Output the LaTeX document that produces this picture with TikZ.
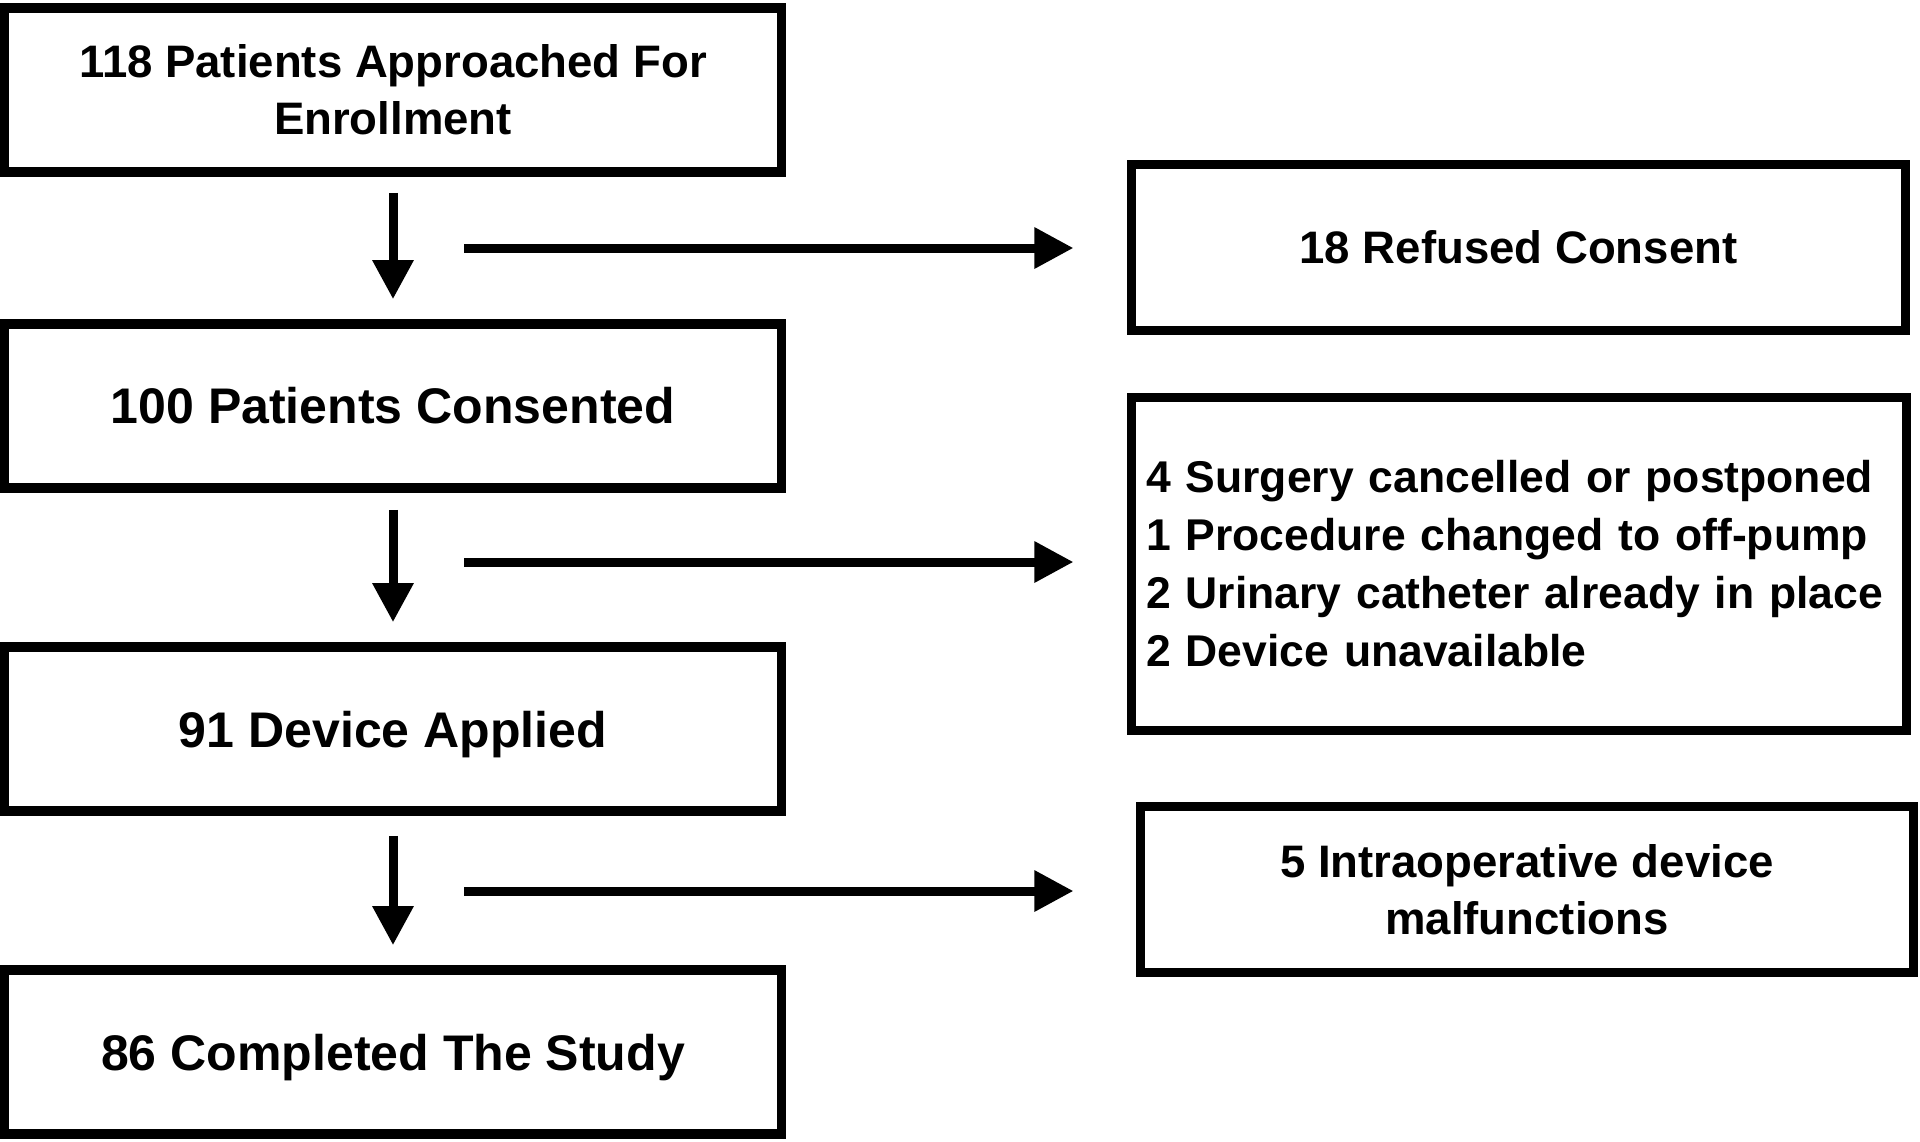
\documentclass[tikz,border=0pt]{standalone}
\usepackage{fontspec}
\setmainfont{Liberation Sans}
\usetikzlibrary{arrows.meta}
\begin{document}
\begin{tikzpicture}[x=0.01cm,y=-0.01cm,
  box/.style={draw, line width=0.095cm, inner sep=0pt, align=center},
  leftbox/.style={box, minimum width=7.77cm, minimum height=1.64cm,
    font=\bfseries\fontsize{14.23pt}{16.2pt}\selectfont},
  rightbox/.style={box, minimum width=7.74cm, minimum height=1.66cm,
    font=\bfseries\fontsize{12.95pt}{16.2pt}\selectfont},
  smallfont/.style={font=\bfseries\fontsize{12.95pt}{16.2pt}\selectfont},
  darrow/.style={line width=0.09cm, -{Triangle[width=0.39cm,length=0.39cm]}},
  harrow/.style={line width=0.09cm, -{Triangle[width=0.39cm,length=0.39cm]}}]
\useasboundingbox (0,0) rectangle (1920,1141);

% left column
\node[leftbox, smallfont] (b1) at (393,90) {118 Patients Approached For\\Enrollment};
\node[leftbox] (b2) at (393,406) {100 Patients Consented};
\node[leftbox, text depth=0pt] (b3) at (393,729) {91 Device Applied};
\node[leftbox, text depth=0pt] (b4) at (393,1052) {86 Completed The Study};

% right column
\node[rightbox] (r1) at (1518.5,247.5) {18 Refused Consent};
\node[box, minimum width=7.75cm, minimum height=3.33cm, text width=7.45cm,
  inner xsep=0.15cm, align=left,
  font=\bfseries\fontsize{12.65pt}{16.5pt}\selectfont] (r2) at (1519,564)
  {4 Surgery cancelled or postponed\\1 Procedure changed to off-pump\\2 Urinary catheter already in place\\2 Device unavailable};
\node[rightbox, minimum width=7.73cm] (r3) at (1527,889.5) {5 Intraoperative device\\malfunctions};

% vertical arrows
\draw[darrow] ([yshift=-0.16cm]b1.south) -- ([yshift=0.2cm]b2.north);
\draw[darrow] ([yshift=-0.17cm]b2.south) -- ([yshift=0.2cm]b3.north);
\draw[darrow] ([yshift=-0.2cm]b3.south) -- ([yshift=0.2cm]b4.north);

% horizontal arrows
\coordinate (h1) at (464,248);
\coordinate (h2) at (464,562);
\coordinate (h3) at (464,891);
\draw[harrow] (h1) -- ([xshift=-0.53cm]h1 -| r1.west);
\draw[harrow] (h2) -- ([xshift=-0.53cm]h2 -| r2.west);
\draw[harrow] (h3) -- ([xshift=-0.62cm]h3 -| r3.west);
\end{tikzpicture}
\end{document}
